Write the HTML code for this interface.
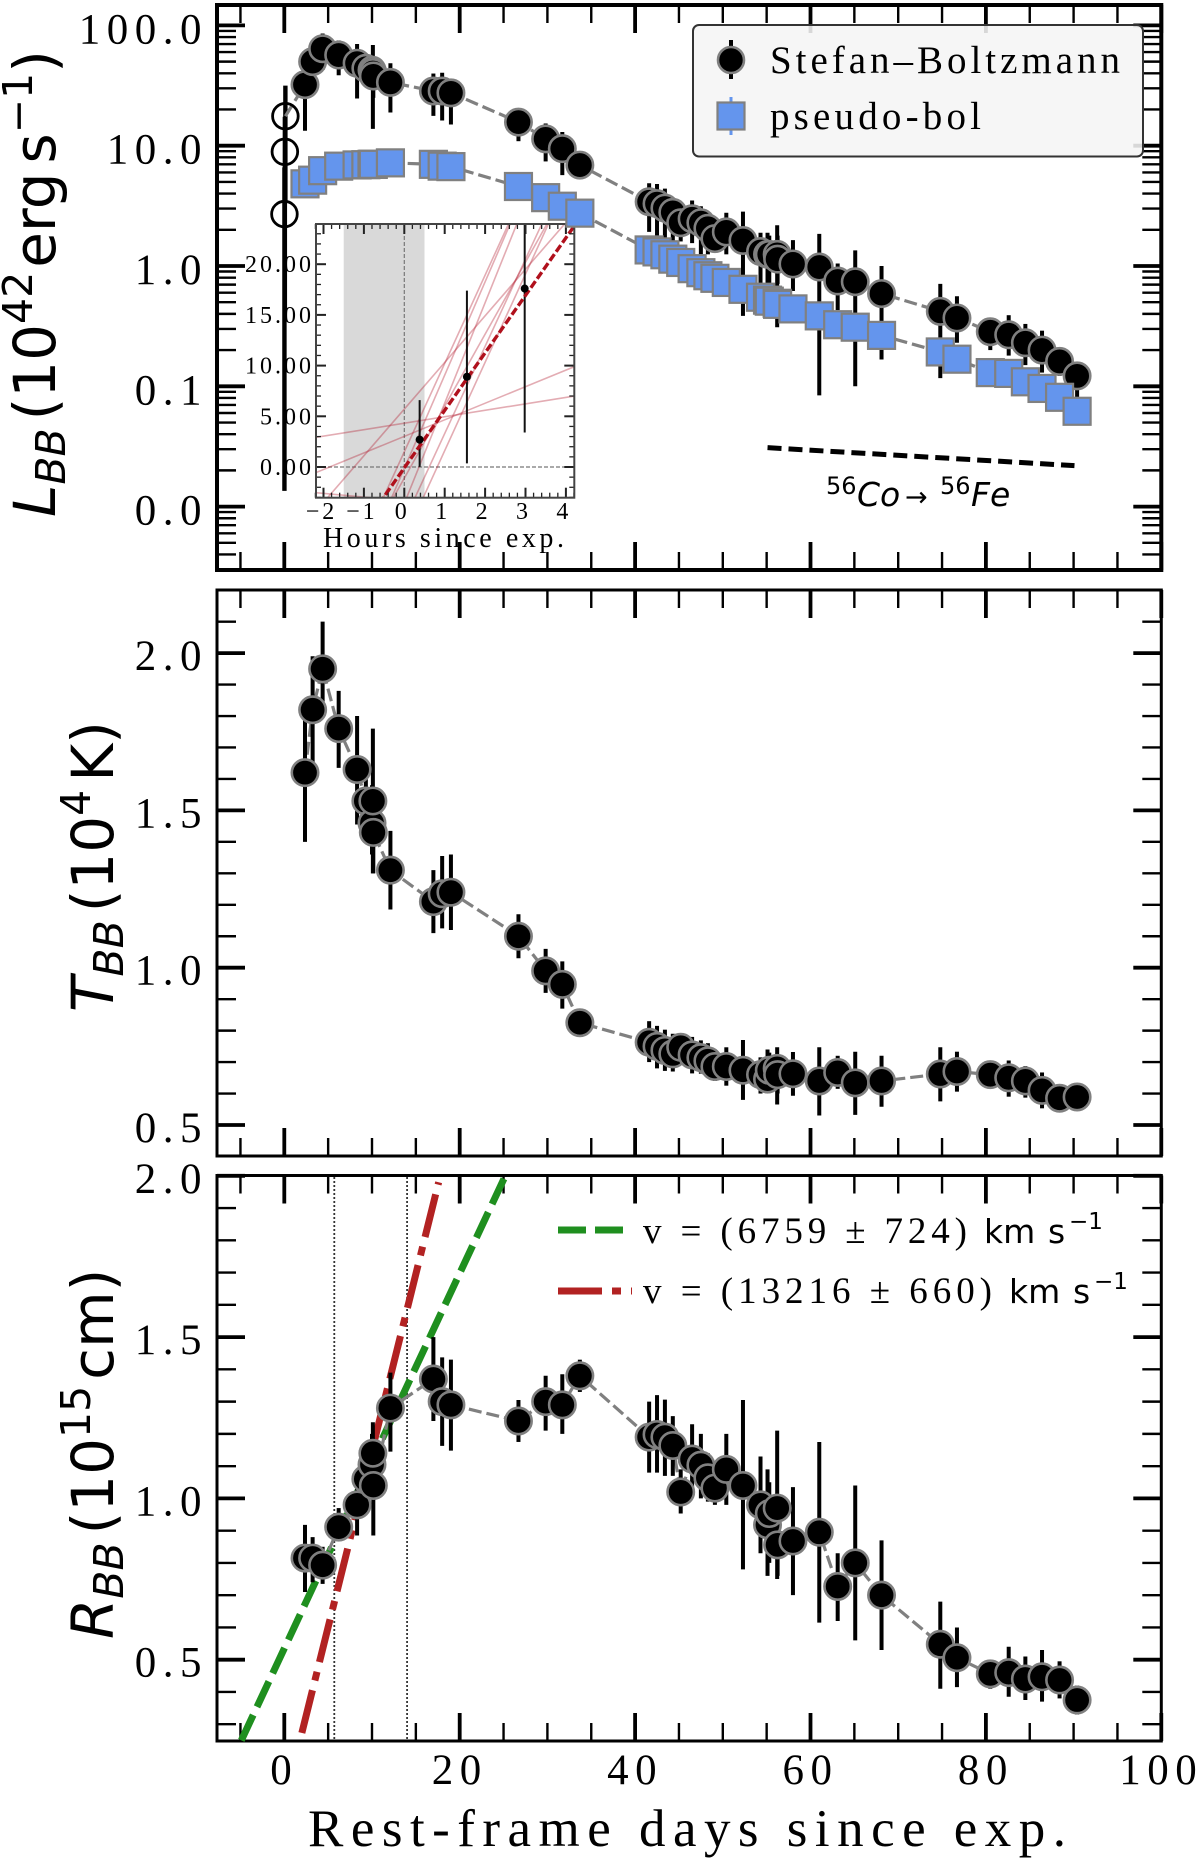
<!DOCTYPE html>
<html lang="en">
<head>
<meta charset="utf-8">
<title>Blackbody luminosity, temperature and radius evolution</title>
<style>
html,body{margin:0;padding:0;background:#fff;}
svg{display:block;}
.serif{font-family:"Liberation Serif",serif;}
.sans{font-family:"DejaVu Sans",sans-serif;}
.tick-label{font-family:"Liberation Serif",serif;font-size:43px;letter-spacing:6.5px;fill:#000;}
.inset-label{font-family:"Liberation Serif",serif;font-size:24px;letter-spacing:3px;fill:#000;}
.axis-title{font-family:"DejaVu Sans",sans-serif;font-size:58px;fill:#000;}
</style>
</head>
<body>
<svg id="figure" xmlns="http://www.w3.org/2000/svg" width="1200" height="1862" viewBox="0 0 1200 1862">
  <defs>
    <clipPath id="inset-clip"><rect x="316" y="224" width="258.3" height="273.7"/></clipPath>
  </defs>
  <rect x="0" y="0" width="1200" height="1862" fill="#fff"/>

  <g id="panel-l-axes"></g>
  <g id="inset">
    <rect x="316" y="224" width="258.3" height="273.7" fill="#fff"/>
    <g id="inset-data" clip-path="url(#inset-clip)"></g>
    <g id="inset-axes"></g>
    <text class="serif" x="323" y="547" font-size="28" textLength="241">Hours since exp.</text>
  </g>
  <g id="panel-l-data"></g>

  <g>
    <rect x="693" y="25" width="450" height="131.500" rx="6" fill="#f5f5f5" fill-opacity="0.88" stroke="#333" stroke-width="2"/>
    <line x1="731" y1="40" x2="731" y2="79" stroke="#000" stroke-width="4"/>
    <circle cx="731" cy="60" r="13" fill="#000" stroke="#808080" stroke-width="2.600"/>
    <text class="serif" x="770" y="73" font-size="39" textLength="350">Stefan–Boltzmann</text>
    <line x1="731" y1="97" x2="731" y2="135" stroke="#6495ed" stroke-width="3"/>
    <rect x="717.500" y="102.500" width="27" height="27" fill="#6495ed" stroke="#808080" stroke-width="2.200"/>
    <text class="serif" x="770" y="129" font-size="39" textLength="211">pseudo-bol</text>
  </g>

  <text class="sans" y="506" font-size="33" fill="#000"><tspan x="826" dy="-12" font-size="24">56</tspan><tspan x="857" dy="12" font-style="italic">Co</tspan><tspan x="905" font-size="27">→</tspan><tspan x="940" dy="-12" font-size="24">56</tspan><tspan x="971" dy="12" font-style="italic">Fe</tspan></text>

  <text class="axis-title" transform="translate(55,517) rotate(-90)"><tspan font-style="italic">L</tspan><tspan font-style="italic" font-size="41" dy="10">BB</tspan><tspan dy="-10" dx="8">(10</tspan><tspan font-size="41" dy="-23">42</tspan><tspan dy="23" dx="4">erg</tspan><tspan dx="9">s</tspan><tspan font-size="41" dy="-23">−1</tspan><tspan dy="23">)</tspan></text>

  <g id="panel-t-axes"></g>
  <g id="panel-t-data"></g>
  <text class="axis-title" transform="translate(113,1012) rotate(-90)"><tspan font-style="italic">T</tspan><tspan font-style="italic" font-size="41" dy="10">BB</tspan><tspan dy="-10" dx="8">(10</tspan><tspan font-size="41" dy="-23">4</tspan><tspan dy="23" dx="8">K)</tspan></text>

  <g id="panel-r-axes"></g>
  <g id="panel-r-fits"></g>
  <g id="panel-r-data"></g>
  <text class="axis-title" transform="translate(113,1639) rotate(-90)"><tspan font-style="italic">R</tspan><tspan font-style="italic" font-size="41" dy="10">BB</tspan><tspan dy="-10" dx="8">(10</tspan><tspan font-size="41" dy="-23">15</tspan><tspan dy="23" dx="6">cm)</tspan></text>

  <g>
    <line x1="558" y1="1230" x2="632" y2="1230" stroke="#1f8f1f" stroke-width="7" stroke-dasharray="28 9"/>
    <text class="serif" x="643" y="1243" font-size="37" textLength="324">v = (6759 ± 724)</text>
    <text class="sans" y="1243" font-size="33"><tspan x="984">km</tspan><tspan x="1048">s</tspan><tspan x="1069" dy="-14" font-size="23">−1</tspan></text>
    <line x1="558" y1="1291" x2="632" y2="1291" stroke="#b22222" stroke-width="7" stroke-dasharray="44 10 9 10"/>
    <text class="serif" x="643" y="1303" font-size="37" textLength="349">v = (13216 ± 660)</text>
    <text class="sans" y="1303" font-size="33"><tspan x="1009">km</tspan><tspan x="1073">s</tspan><tspan x="1094" dy="-14" font-size="23">−1</tspan></text>
  </g>

  <text class="serif" x="308" y="1846" font-size="53" textLength="758">Rest-frame days since exp.</text>
</svg>

<script>
// ---- shared epochs (rest-frame days) ----
const days = [2.36,3.23,4.37,6.2,8.3,9.3,10.0,10.1,10.15,12.1,17,18,19,26.7,29.8,31.7,33.7,
  41.6,42.5,43.4,44.3,45.2,46.5,47.5,48.3,49.1,50.4,52.3,54.3,55.1,55.3,56.2,56.25,58,61,63.1,65.1,68.1,74.8,76.7,80.5,82.6,84.5,86.4,88.4,90.4];

// ---- Stefan-Boltzmann luminosity (10^42 erg/s) ----
const lumBB = [32.2,50,64,56.7,48.5,44,42.5,40.6,38,33.6,28.5,28.5,27.5,15.7,11.4,9.45,6.9,
  3.42,3.30,3.03,2.79,2.29,2.47,2.29,2.06,1.69,1.92,1.63,1.32,1.25,1.25,1.25,1.14,1.04,.98,.75,.74,.59,.42,.37,.284,.268,.23,.2,.161,.122];
const lumLo = [13.3,38,42.6,38.5,24.7,32,30,13.8,25,18.9,17.7,16.2,15,10.9,7.4,5.7,5.9,
  1.92,1.79,1.66,1.55,1.6,1.55,1.25,1.25,1.35,1.25,.385,.71,.576,.62,.31,.71,.62,.084,.43,.1,.167,.117,.23,.2,.18,.15,.13,.122,.08];
const lumHi = [49,65,85.6,75,70,56.6,56,68.8,52,48.5,39.8,40.4,35,19.6,15.3,13,8.1,
  4.87,4.8,4.4,3.6,2.9,3.5,3.14,2.73,2.06,2.77,2.83,1.89,1.89,1.79,2.18,1.79,1.64,1.85,1.05,1.35,1,.71,.56,.36,.39,.33,.29,.21,.155];

// ---- pseudo-bolometric luminosity ----
const lumPseudo = [4.82,5.17,6.2,6.76,6.92,6.95,7.0,7.0,7.0,7.2,7.0,6.76,6.7,4.58,3.7,3.14,2.75,
  1.36,1.31,1.24,1.14,1.07,.95,.88,.83,.79,.73,.64,.55,.52,.51,.49,.48,.44,.385,.325,.31,.265,.193,.168,.13,.128,.109,.096,.081,.062];

// ---- temperature (10^4 K) ----
const tempBB = [1.62,1.82,1.95,1.76,1.63,1.53,1.46,1.53,1.43,1.31,1.21,1.235,1.24,1.10,.99,.947,.825,
  .763,.75,.737,.726,.747,.723,.714,.704,.686,.686,.674,.66,.646,.674,.68,.66,.663,.64,.667,.634,.64,.662,.67,.66,.65,.64,.61,.585,.589];
const tempLo = [1.40,1.65,1.84,1.635,1.455,1.43,1.36,1.30,1.30,1.185,1.11,1.125,1.12,1.03,.92,.87,.80,
  .70,.68,.672,.67,.70,.664,.663,.65,.64,.625,.58,.60,.60,.61,.565,.60,.593,.53,.615,.532,.558,.575,.606,.62,.59,.587,.553,.55,.56];
const tempHi = [1.84,1.99,2.10,1.88,1.80,1.63,1.58,1.76,1.55,1.435,1.31,1.355,1.36,1.17,1.06,1.02,.85,
  .83,.815,.803,.79,.79,.78,.769,.76,.73,.747,.77,.715,.74,.73,.747,.72,.732,.747,.72,.733,.72,.747,.733,.70,.705,.687,.667,.62,.62];

// ---- radius (10^15 cm) ----
const radBB = [.815,.815,.793,.911,.98,1.06,1.105,1.14,1.04,1.28,1.37,1.30,1.29,1.24,1.30,1.29,1.38,
  1.19,1.198,1.19,1.164,1.02,1.122,1.103,1.064,1.032,1.09,1.04,.98,.918,.953,.97,.856,.868,.895,.727,.80,.70,.548,.506,.456,.46,.44,.447,.437,.375];
const radLo = [.71,.74,.735,.87,.885,.98,1.02,1.02,.885,1.145,1.24,1.163,1.148,1.175,1.21,1.2,1.33,
  1.08,1.08,1.07,1.07,.953,1.015,1.0,.99,.98,.98,.78,.83,.76,.80,.75,.76,.70,.615,.62,.56,.53,.41,.415,.41,.385,.375,.37,.38,.33];
const radHi = [.918,.88,.85,.97,1.08,1.14,1.2,1.236,1.15,1.39,1.50,1.437,1.43,1.305,1.38,1.385,1.43,
  1.30,1.32,1.306,1.255,1.09,1.23,1.2,1.14,1.1,1.2,1.305,1.13,1.09,1.05,1.21,.95,1.035,1.175,.83,1.04,.87,.68,.60,.50,.54,.51,.53,.495,.42];

// ---- earliest epochs, shown as open circles and in the inset ----
const earlyHours = [0.38,1.55,2.98];
const earlyLum = [2.7,8.9,17.6];
const earlyLo = [0.0135,0.36,3.4];
const earlyHi = [6.6,17.4,31.6];

// ---- inset power-law realisations: L = slope * hours + intercept ----
const fitSlopes = [0.636,1.634,4.6,8.71,9.2,9.9,8.6,8.71,7.1,-0.37];
const fitIntercepts = [4.32,3.02,5.71,1.5,-0.14,-3.6,-5.3,-7.1,-1.1,-3.34];
const bestSlope = [5.67];
const bestIntercept = [-0.08];
const expWindowHours = [-1.5,0.5];
const insetRefHour = [0];
const insetRefLum = [0];
const insetHourRange = [-2.19,4.21];
const insetLumRange = [-3.03,23.96];

// ---- cobalt decay guide ----
const decayDays = [55.1,90.1];
const decayLum = [0.0309,0.0219];

// ---- radius expansion fits ----
const greenFitDays = [-4.9,25.2];
const greenFitRad = [0.25,2.0];
const redFitDays = [2.0,17.6];
const redFitRad = [0.273,1.98];
const fitWindowDays = [5.7,14];

// ---- ticks ----
const xMajorTicks = [0,20,40,60,80,100];
const xTickLabels = ['0','20','40','60','80','100'];
const xMinorTicks = [-5,5,10,15,25,30,35,45,50,55,65,70,75,85,90,95];
const lumMajorTicks = [100,10,1,0.1,0.01];
const lumTickLabels = ['100.0','10.0','1.0','0.1','0.0'];
const lumMinorMantissas = [2,3,4,5,6,7,8,9];
const lumMinorDecades = [0.001,0.01,0.1,1,10,100];
const tempMajorTicks = [2.0,1.5,1.0,0.5];
const tempTickLabels = ['2.0','1.5','1.0','0.5'];
const tempMinorTicks = [2.1,1.9,1.8,1.7,1.6,1.4,1.3,1.2,1.1,0.9,0.8,0.7,0.6];
const radMajorTicks = [2.0,1.5,1.0,0.5];
const radTickLabels = ['2.0','1.5','1.0','0.5'];
const radMinorTicks = [1.9,1.8,1.7,1.6,1.4,1.3,1.2,1.1,0.9,0.8,0.7,0.6,0.4,0.3];
const insetXMajor = [-2,-1,0,1,2,3,4];
const insetXLabels = ['−2','−1','0','1','2','3','4'];
const insetYMajor = [20,15,10,5,0];
const insetYLabels = ['20.00','15.00','10.00','5.00','0.00'];

// ---- geometry and scales ----
const FRAME_LEFT = 217, FRAME_RIGHT = 1161.3;
const NS = 'http://www.w3.org/2000/svg';
const xDay = d => 284.3 + 8.77 * d;
const yLum = v => 266 - 120.3 * Math.log10(v);
const yTemp = v => 967.7 - 314.6 * (v - 1);
const yRad = v => 1498.4 - 322.6 * (v - 1);
const xHour = h => 404.3 + 40.4 * h;
const yInset = v => 467 - 10.14 * v;

function mk(parent, tag, attrs) {
  const el = document.createElementNS(NS, tag);
  for (const k in attrs) el.setAttribute(k, attrs[k]);
  parent.appendChild(el);
  return el;
}

function drawFrame(g, top, bottom, width) {
  const frame = mk(g, 'rect', {x: FRAME_LEFT, y: top, width: FRAME_RIGHT - FRAME_LEFT, height: bottom - top, fill: 'none', stroke: '#000', 'stroke-width': width});
  
  
}

function drawXTicks(g, top, bottom) {
  const draw = (values, len, w) => values.forEach(v => {
    const x = xDay(v);
    const a = mk(g, 'line', {x1: x, x2: x, y1: top, y2: top + len, stroke: '#000', 'stroke-width': w});
    
    
    const b = mk(g, 'line', {x1: x, x2: x, y1: bottom, y2: bottom - len, stroke: '#000', 'stroke-width': w});
    
    
  });
  draw(xMinorTicks, 18, 2.4);
  draw(xMajorTicks, 28, 3.8);
}

function drawYTicks(g, scale, majors, minors, labels, labelOffset) {
  const draw = (values, len, w) => values.forEach(v => {
    const y = scale(v);
    const a = mk(g, 'line', {x1: FRAME_LEFT, x2: FRAME_LEFT + len, y1: y, y2: y, stroke: '#000', 'stroke-width': w});
    
    
    const b = mk(g, 'line', {x1: FRAME_RIGHT, x2: FRAME_RIGHT - len, y1: y, y2: y, stroke: '#000', 'stroke-width': w});
    
    
  });
  draw(minors, 19, 2.4);
  draw(majors, 28, 3.8);
  majors.forEach((v, i) => {
    const t = mk(g, 'text', {x: 208, y: scale(v) + labelOffset, 'text-anchor': 'end', class: 'tick-label'});
    
    
    t.textContent = labels[i];
  });
}

function drawErrorbars(g, xs, los, his, scale, w) {
  xs.forEach((d, i) => {
    const bar = mk(g, 'line', {x1: xDay(d), x2: xDay(d), y1: scale(los[i]), y2: scale(his[i]), stroke: '#000', 'stroke-width': w});
    
    
  });
}

function drawDashedTrend(g, xs, ys, scale) {
  const pts = xs.map((d, i) => xDay(d).toFixed(1) + ',' + scale(ys[i]).toFixed(1)).join(' ');
  const line = mk(g, 'polyline', {points: pts, fill: 'none', stroke: '#808080', 'stroke-width': 3.2, 'stroke-dasharray': '13 5'});
  
  
}

function drawCircles(g, xs, ys, scale) {
  xs.forEach((d, i) => {
    const c = mk(g, 'circle', {cx: xDay(d), cy: scale(ys[i]), r: 13.2, fill: '#000', stroke: '#808080', 'stroke-width': 2.6});
    
    
  });
}

// ---- luminosity panel ----
const lAxes = document.getElementById('panel-l-axes');
const lumMinorTicks = [];
lumMinorDecades.forEach(dec => lumMinorMantissas.forEach(m => {
  const v = dec * m;
  if (yLum(v) > 7 && yLum(v) < 568) lumMinorTicks.push(v);
}));
drawXTicks(lAxes, 5, 570);
drawYTicks(lAxes, yLum, lumMajorTicks, lumMinorTicks, lumTickLabels, 18);
drawFrame(lAxes, 5, 570, 4);

// ---- inset ----
const insetData = document.getElementById('inset-data');
const expSpan = mk(insetData, 'rect', {x: xHour(expWindowHours[0]), y: 224, width: xHour(expWindowHours[1]) - xHour(expWindowHours[0]), height: 273.7, fill: '#d9d9d9'});


const vRef = mk(insetData, 'line', {x1: xHour(insetRefHour[0]), x2: xHour(insetRefHour[0]), y1: 224, y2: 498, stroke: '#777', 'stroke-width': 1.2, 'stroke-dasharray': '4 2'});


const hRef = mk(insetData, 'line', {x1: 316, x2: 574.3, y1: yInset(insetRefLum[0]), y2: yInset(insetRefLum[0]), stroke: '#777', 'stroke-width': 1.2, 'stroke-dasharray': '4 2'});


fitSlopes.forEach((a, i) => {
  const y1 = a * insetHourRange[0] + fitIntercepts[i];
  const y2 = a * insetHourRange[1] + fitIntercepts[i];
  const ln = mk(insetData, 'line', {x1: xHour(insetHourRange[0]), y1: yInset(y1), x2: xHour(insetHourRange[1]), y2: yInset(y2), stroke: '#b2182b', 'stroke-opacity': 0.36, 'stroke-width': 1.6});
  
  
});
earlyHours.forEach((h, i) => {
  const bar = mk(insetData, 'line', {x1: xHour(h), x2: xHour(h), y1: yInset(earlyLo[i]), y2: yInset(earlyHi[i]), stroke: '#111', 'stroke-width': 2});
  
  
});
const best = mk(insetData, 'line', {x1: xHour(insetHourRange[0]), y1: yInset(bestSlope[0] * insetHourRange[0] + bestIntercept[0]), x2: xHour(insetHourRange[1]), y2: yInset(bestSlope[0] * insetHourRange[1] + bestIntercept[0]), stroke: '#b0101c', 'stroke-width': 3.4, 'stroke-dasharray': '8 3'});


earlyHours.forEach((h, i) => {
  const p = mk(insetData, 'circle', {cx: xHour(h), cy: yInset(earlyLum[i]), r: 4, fill: '#000'});
  
  
});

const insetAxes = document.getElementById('inset-axes');
const iLeft = 316, iRight = 574.3, iTop = 224, iBottom = 497.7;
function insetTickX(h, len, w) {
  const x = xHour(h);
  const a = mk(insetAxes, 'line', {x1: x, x2: x, y1: iBottom, y2: iBottom - len, stroke: '#222', 'stroke-width': w});
  
  
  const b = mk(insetAxes, 'line', {x1: x, x2: x, y1: iTop, y2: iTop + len, stroke: '#222', 'stroke-width': w});
  
  
}
function insetTickY(v, len, w) {
  const y = yInset(v);
  const a = mk(insetAxes, 'line', {x1: iLeft, x2: iLeft + len, y1: y, y2: y, stroke: '#222', 'stroke-width': w});
  
  
  const b = mk(insetAxes, 'line', {x1: iRight, x2: iRight - len, y1: y, y2: y, stroke: '#222', 'stroke-width': w});
  
  
}
for (let k = -11; k <= 21; k++) if (k % 5 !== 0) insetTickX(k / 5, 5, 1.3);
for (let k = -3; k <= 23; k++) if (k % 5 !== 0) insetTickY(k, 5, 1.3);
insetXMajor.forEach(h => insetTickX(h, 10, 2));
insetYMajor.forEach(v => insetTickY(v, 10, 2));
const insetFrame = mk(insetAxes, 'rect', {x: iLeft, y: iTop, width: iRight - iLeft, height: iBottom - iTop, fill: 'none', stroke: '#444', 'stroke-width': 2});


insetXMajor.forEach((h, i) => {
  const t = mk(insetAxes, 'text', {x: xHour(h) - 2, y: 519, 'text-anchor': 'middle', class: 'inset-label'});
  
  
  t.textContent = insetXLabels[i];
});
insetYMajor.forEach((v, i) => {
  const t = mk(insetAxes, 'text', {x: 314, y: yInset(v) + 8, 'text-anchor': 'end', class: 'inset-label'});
  
  
  t.textContent = insetYLabels[i];
});

// ---- luminosity series ----
const lData = document.getElementById('panel-l-data');
const earlyDays = earlyHours.map(h => h / 24);
drawErrorbars(lData, earlyDays, earlyLo, earlyHi, yLum, 4.4);
drawDashedTrend(lData, [earlyDays[2]].concat(days), [earlyLum[2]].concat(lumBB), yLum);
drawErrorbars(lData, days, lumLo, lumHi, yLum, 4);
drawCircles(lData, days, lumBB, yLum);
earlyDays.forEach((d, i) => {
  const c = mk(lData, 'circle', {cx: xDay(d), cy: yLum(earlyLum[i]), r: 12.8, fill: 'none', stroke: '#000', 'stroke-width': 2.8});
  
  
});
drawDashedTrend(lData, days, lumPseudo, yLum);
days.forEach((d, i) => {
  const s = 27;
  const r = mk(lData, 'rect', {x: xDay(d) - s / 2, y: yLum(lumPseudo[i]) - s / 2, width: s, height: s, fill: '#6495ed', stroke: '#808080', 'stroke-width': 2.2});
  
  
});
const decay = mk(lData, 'line', {x1: xDay(decayDays[0]), y1: yLum(decayLum[0]), x2: xDay(decayDays[1]), y2: yLum(decayLum[1]), stroke: '#000', 'stroke-width': 5, 'stroke-dasharray': '14 7'});



// ---- temperature panel ----
const tAxes = document.getElementById('panel-t-axes');
drawXTicks(tAxes, 590, 1156);
drawYTicks(tAxes, yTemp, tempMajorTicks, tempMinorTicks, tempTickLabels, 17);
drawFrame(tAxes, 590, 1156, 3);
const tData = document.getElementById('panel-t-data');
drawDashedTrend(tData, days, tempBB, yTemp);
drawErrorbars(tData, days, tempLo, tempHi, yTemp, 4);
drawCircles(tData, days, tempBB, yTemp);

// ---- radius panel ----
const rAxes = document.getElementById('panel-r-axes');
drawXTicks(rAxes, 1175.5, 1741);
drawYTicks(rAxes, yRad, radMajorTicks, radMinorTicks, radTickLabels, 17);
drawFrame(rAxes, 1175.5, 1741, 3);
xMajorTicks.forEach((v, i) => {
  const t = mk(rAxes, 'text', {x: xDay(v), y: 1784, 'text-anchor': 'middle', class: 'tick-label'});
  
  
  t.textContent = xTickLabels[i];
});
const rFits = document.getElementById('panel-r-fits');
fitWindowDays.forEach(d => {
  const v = mk(rFits, 'line', {x1: xDay(d), x2: xDay(d), y1: 1177, y2: 1739, stroke: '#333', 'stroke-width': 1.8, 'stroke-dasharray': '2 2'});
  
  
});
const redFit = mk(rFits, 'line', {x1: xDay(redFitDays[0]), y1: yRad(redFitRad[0]), x2: xDay(redFitDays[1]), y2: yRad(redFitRad[1]), stroke: '#b22222', 'stroke-width': 7, 'stroke-dasharray': '44 10 9 10'});


const greenFit = mk(rFits, 'line', {x1: xDay(greenFitDays[0]), y1: yRad(greenFitRad[0]), x2: xDay(greenFitDays[1]), y2: yRad(greenFitRad[1]), stroke: '#1f8f1f', 'stroke-width': 7, 'stroke-dasharray': '28 9'});


const rData = document.getElementById('panel-r-data');
drawDashedTrend(rData, days, radBB, yRad);
drawErrorbars(rData, days, radLo, radHi, yRad, 4);
drawCircles(rData, days, radBB, yRad);
</script>
</body>
</html>
